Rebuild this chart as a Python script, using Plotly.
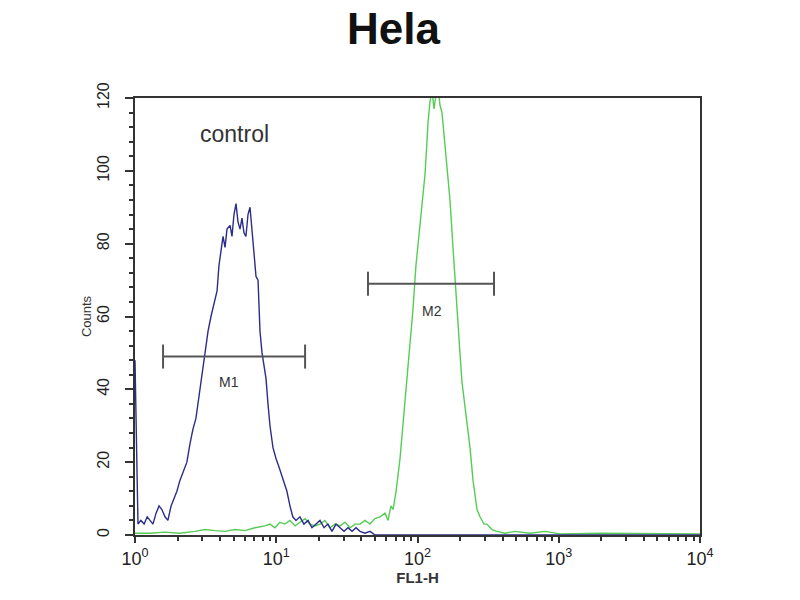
import math
import plotly.graph_objects as go

# Control (blue) histogram: FL1-H value, counts
control_x = [1.0, 1.05, 1.10, 1.16, 1.22, 1.28, 1.34, 1.41, 1.48, 1.55, 1.63, 1.71, 1.80, 1.89, 1.98,
             2.08, 2.22, 2.33, 2.45, 2.57, 2.70, 2.84, 2.98, 3.13, 3.29, 3.45, 3.63, 3.81, 3.93, 4.06,
             4.20, 4.34, 4.48, 4.71, 4.86, 5.02, 5.19, 5.36, 5.54, 5.72, 5.91, 6.10, 6.31, 6.52, 6.73,
             6.96, 7.19, 7.43, 7.67, 7.93, 8.19, 8.46, 8.74, 9.03, 9.48, 9.96, 10.6, 11.4, 11.9, 12.5,
             13.1, 13.8, 14.7, 15.7, 16.8, 17.9, 19.1, 20.4, 21.8, 23.2, 24.8, 26.5, 28.3, 30.2, 32.2,
             34.4, 36.7, 39.2, 42.5, 46.1, 50.0, 100, 1000, 10000]
control_y = [48, 3, 4, 3, 5, 4, 3, 6, 8, 7, 5, 4, 8, 10, 12,
             15, 18, 20, 25, 29, 32, 38, 43, 50, 56, 60, 64, 67, 74, 78,
             82, 79, 84, 85, 82, 88, 91, 86, 84, 87, 83, 82, 88, 90, 84,
             79, 71, 70, 56, 50, 47, 43, 36, 30, 24, 21, 18, 14, 12, 8,
             5, 4, 5, 3, 4, 2, 3, 4, 2, 3, 1, 3, 2, 1, 2,
             1, 2, 1, 0.5, 1, 0, 0, 0, 0]

# Sample (green) histogram
sample_x = [1.0, 1.28, 1.63, 2.08, 2.66, 3.13, 3.68, 4.34, 5.10, 6.01, 7.07, 8.32, 9.03, 9.80, 10.6,
            11.5, 12.5, 13.6, 14.7, 16.0, 17.3, 18.8, 20.4, 22.1, 24.0, 26.1, 28.3, 30.7, 33.3, 36.1,
            39.2, 42.5, 46.1, 50.0, 54.3, 58.9, 61.8, 64.9, 67.1, 70.5, 75.2, 78.9, 84.3, 88.5, 92.9,
            97.5, 104.2, 109.3, 113.0, 116.7, 118.6, 122.5, 126.7, 130.9, 135.2, 139.7, 144.3, 149.1,
            151.5, 156.6, 161.8, 169.8, 178.3, 184.2, 190.4, 199.8, 206.5, 220.5, 235.4, 247.2, 263.9,
            276.9, 295.7, 310.5, 336.8, 365.5, 416, 490, 626, 799, 1020, 1960, 4430, 10000]
sample_y = [0.5, 0.5, 0.8, 0.5, 1, 1.5, 1.2, 1, 1.5, 1.2, 2, 2.5, 3, 2, 3.5,
            3, 4, 2.5, 3.5, 4.5, 3, 2.5, 3, 4, 2, 3, 2.5, 3.5, 2, 3,
            3, 4, 3, 4.5, 5, 6, 4, 8, 7, 12, 21, 30, 42, 52, 62,
            74, 85, 93, 99, 108, 113, 119, 122, 117, 121, 123, 118, 116,
            113, 107, 102, 92, 79, 70, 62, 50, 42, 33, 24, 15, 7,
            5, 3, 3, 1.5, 1, 0.5, 1, 0.5, 1, 0.3, 0.5, 0.3, 0.3]

# Gate markers: name, low, high, level, label position
gate_names = ["M1", "M2"]
gate_low = [1.58, 44.6]
gate_high = [16.0, 348]
gate_level = [49, 69]
gate_label_x = [4.63, 126.7]
gate_label_y = [42, 61.5]
cap_half = 3.3

control_label = "control"
control_label_x = 5.1
control_label_y = 110

chart_title = "Hela"

x_tickvals = [1, 10, 100, 1000, 10000]
x_ticktext = ["10<sup>0</sup>", "10<sup>1</sup>", "10<sup>2</sup>", "10<sup>3</sup>", "10<sup>4</sup>"]
y_tickvals = [0, 20, 40, 60, 80, 100, 120]

FONT = "Liberation Sans, Arial, sans-serif"

fig = go.Figure()
fig.add_trace(go.Scatter(x=sample_x, y=sample_y, mode="lines",
                         line=dict(color="#55cc55", width=1.4), showlegend=False, hoverinfo="skip"))
fig.add_trace(go.Scatter(x=control_x, y=control_y, mode="lines",
                         line=dict(color="#2c2c8a", width=1.4), showlegend=False, hoverinfo="skip"))

gate_color = "#555555"
for i in range(len(gate_names)):
    fig.add_trace(go.Scatter(x=[gate_low[i], gate_high[i]], y=[gate_level[i], gate_level[i]],
                             mode="lines", line=dict(color=gate_color, width=2), showlegend=False))
    for gx in (gate_low[i], gate_high[i]):
        fig.add_trace(go.Scatter(x=[gx, gx], y=[gate_level[i] - cap_half, gate_level[i] + cap_half],
                                 mode="lines", line=dict(color=gate_color, width=2), showlegend=False))
    fig.add_annotation(x=math.log10(gate_label_x[i]), y=gate_label_y[i], xref="x", yref="y",
                       text=gate_names[i], showarrow=False,
                       font=dict(family=FONT, size=14, color="#333333"))

fig.add_annotation(x=math.log10(control_label_x), y=control_label_y, xref="x", yref="y",
                   text=control_label, showarrow=False,
                   font=dict(family=FONT, size=23, color="#333333"))

# Title as a paper-referenced annotation above the plot
fig.add_annotation(x=0.457, y=1.16, xref="paper", yref="paper", xanchor="center", yanchor="middle",
                   text="<b>" + chart_title + "</b>", showarrow=False,
                   font=dict(family=FONT, size=44, color="#111111"))

fig.update_layout(
    width=800, height=600,
    paper_bgcolor="white", plot_bgcolor="white",
    margin=dict(l=127, r=108, t=90, b=73),
    font=dict(family=FONT, color="#222222"),
)
fig.update_xaxes(type="log", range=[0, 4], tickvals=x_tickvals, ticktext=x_ticktext,
                 ticks="outside", ticklen=6, tickwidth=2, tickcolor="#333333",
                 tickfont=dict(size=18, color="#222222"),
                 minor=dict(dtick="D1", ticks="outside", ticklen=4, tickwidth=2, tickcolor="#333333"),
                 showline=True, linecolor="#333333", linewidth=2, mirror=True,
                 showgrid=False, zeroline=False,
                 title=dict(text="<b>FL1-H</b>", font=dict(size=15, color="#333333"), standoff=0))
fig.update_yaxes(range=[0, 120], tickvals=y_tickvals, tickangle=-90,
                 ticks="outside", ticklen=8, tickwidth=2, tickcolor="#333333",
                 ticklabelstandoff=10,
                 tickfont=dict(size=16, color="#222222"),
                 minor=dict(dtick=4, ticks="outside", ticklen=4, tickwidth=2, tickcolor="#333333"),
                 showline=True, linecolor="#333333", linewidth=2, mirror=True,
                 showgrid=False, zeroline=False,
                 title=dict(text="Counts", font=dict(size=13, color="#333333"), standoff=0))

fig.write_html("out.html")
